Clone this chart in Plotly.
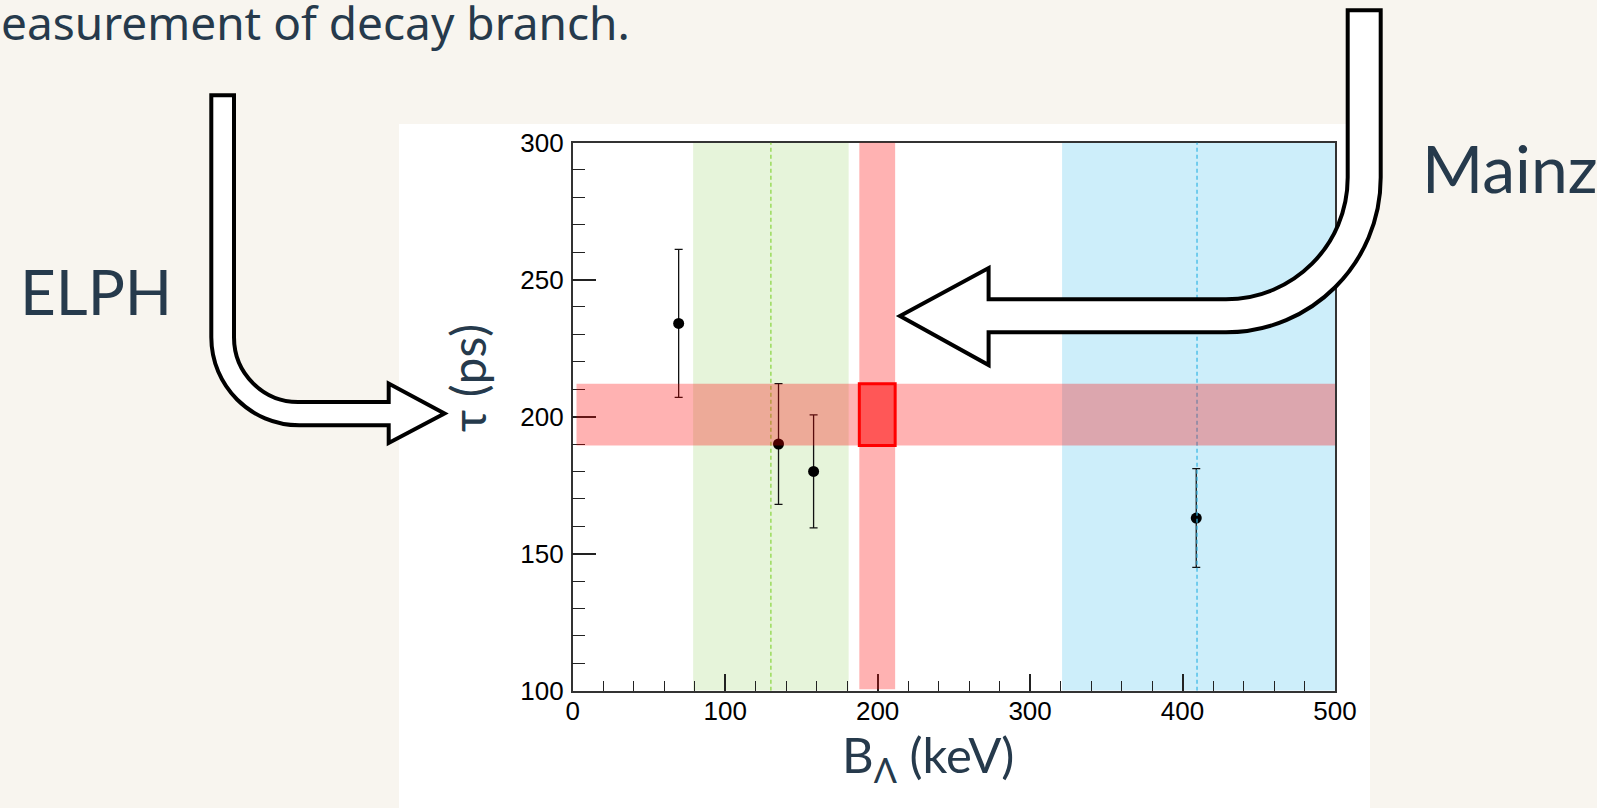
import plotly.graph_objects as go

W, H = 1597, 808

# ---------------- data ----------------
B_lambda = [69.5, 135, 158, 409]          # keV
tau = [234, 190, 180, 163]                # ps
tau_err_plus = [27, 22, 20.6, 18]
tau_err_minus = [27, 22, 20.6, 18]

elph_band = [79, 181]
elph_center = 130
mainz_band = [321, 500]
mainz_center = 409.5
tau_band = [189.5, 212]
B_band = [188, 211.5]

x_range = [0, 500]
y_range = [100, 300]

# ---------------- layout helpers ----------------
def px(x):
    return x / W

def py(y):
    return 1 - y / H

frame = dict(left=572.7, right=1335.0, top=142.5, bottom=690.7)

TXT = "#263a4c"
FONT = "Lato"

fig = go.Figure()

fig.add_trace(go.Scatter(
    x=B_lambda, y=tau, mode="markers",
    marker=dict(color="black", size=11, symbol="circle"),
    error_y=dict(type="data", symmetric=False, array=tau_err_plus,
                 arrayminus=tau_err_minus, color="#111", thickness=1.3, width=4),
    showlegend=False, hoverinfo="skip",
))

shapes = []
# white canvas panel (ROOT canvas)
shapes.append(dict(type="rect", xref="paper", yref="paper",
                   x0=px(399), x1=px(1370), y0=py(808), y1=py(124),
                   fillcolor="white", line=dict(width=0), layer="below"))
# Bands (below data)
shapes.append(dict(type="rect", xref="x", yref="y", x0=elph_band[0], x1=elph_band[1],
                   y0=y_range[0], y1=y_range[1], fillcolor="#e6f4da",
                   line=dict(width=0), layer="below"))
shapes.append(dict(type="rect", xref="x", yref="y", x0=mainz_band[0], x1=mainz_band[1],
                   y0=y_range[0], y1=y_range[1], fillcolor="#cdeefa",
                   line=dict(width=0), layer="below"))
# dashed centre lines
shapes.append(dict(type="line", xref="x", yref="y", x0=elph_center, x1=elph_center,
                   y0=y_range[0], y1=y_range[1],
                   line=dict(color="#86d43a", width=1.2, dash="4px,3px"), layer="above"))
shapes.append(dict(type="line", xref="x", yref="y", x0=mainz_center, x1=mainz_center,
                   y0=y_range[0], y1=y_range[1],
                   line=dict(color="#33b5e5", width=1.2, dash="4px,3px"), layer="above"))
# red bands (semi-transparent, above)
shapes.append(dict(type="rect", xref="x", yref="y", x0=2.5, x1=x_range[1],
                   y0=tau_band[0], y1=tau_band[1], fillcolor="rgba(255,0,0,0.3)",
                   line=dict(width=0), layer="above"))
shapes.append(dict(type="rect", xref="x", yref="y", x0=B_band[0], x1=B_band[1],
                   y0=y_range[0] + 0.5, y1=y_range[1], fillcolor="rgba(255,0,0,0.3)",
                   line=dict(width=0), layer="above"))
# highlighted intersection box
shapes.append(dict(type="rect", xref="x", yref="y", x0=B_band[0], x1=B_band[1],
                   y0=tau_band[0], y1=tau_band[1], fillcolor="#ff5757",
                   line=dict(color="#ff0000", width=3), layer="above"))

# ---------------- block arrows ----------------
K = 0.5523

def P(x, y):
    return f"{px(x):.6f},{py(y):.6f}"

# ELPH arrow
Lx, Rx, top = 211.3, 234.0, 95.3
cx, cy, R, r = 299.3, 337.3, 88.0, 65.3
hb, hy_bot, hy_top, hy_in_top, hy_in_bot = 388.7, 443.0, 383.5, 402.0, 425.3
tipx, tipy = 444.5, 413.5
elph_path = (
    f"M{P(Lx, top)} L{P(Lx, cy)} "
    f"C{P(Lx, cy + K*R)} {P(cx - K*R, cy + R)} {P(cx, cy + R)} "
    f"L{P(hb, hy_in_bot)} L{P(hb, hy_bot)} L{P(tipx, tipy)} L{P(hb, hy_top)} "
    f"L{P(hb, hy_in_top)} L{P(cx, hy_in_top)} "
    f"C{P(cx - K*r, cy + r)} {P(Rx, cy + K*r)} {P(Rx, cy)} "
    f"L{P(Rx, top)} Z"
)
shapes.append(dict(type="path", xref="paper", yref="paper", path=elph_path,
                   fillcolor="white", line=dict(color="black", width=4), layer="above"))

# Mainz arrow
mLx, mRx, mtop = 1347.7, 1380.7, 10.3
mcx, mcy, mr, mR = 1226.0, 177.6, 121.7, 154.7
mhb, m_in_top, m_in_bot, mh_top, mh_bot = 988.6, 299.3, 332.3, 268.0, 365.0
mtipx, mtipy = 900.0, 316.0
mainz_path = (
    f"M{P(mLx, mtop)} L{P(mLx, mcy)} "
    f"C{P(mLx, mcy + K*mr)} {P(mcx + K*mr, mcy + mr)} {P(mcx, mcy + mr)} "
    f"L{P(mhb, m_in_top)} L{P(mhb, mh_top)} L{P(mtipx, mtipy)} L{P(mhb, mh_bot)} "
    f"L{P(mhb, m_in_bot)} L{P(mcx, mcy + mR)} "
    f"C{P(mcx + K*mR, mcy + mR)} {P(mRx, mcy + K*mR)} {P(mRx, mcy)} "
    f"L{P(mRx, mtop)} Z"
)
shapes.append(dict(type="path", xref="paper", yref="paper", path=mainz_path,
                   fillcolor="white", line=dict(color="black", width=4), layer="above"))

annotations = [
    dict(text="easurement of decay branch.", x=0, y=py(22), xref="paper", yref="paper",
         xanchor="left", yanchor="middle", showarrow=False, borderpad=0,
         font=dict(family="Noto Sans", size=46, color=TXT)),
    dict(text="ELPH", x=px(18), y=py(291), xref="paper", yref="paper",
         xanchor="left", yanchor="middle", showarrow=False,
         font=dict(family=FONT, size=62, color=TXT)),
    dict(text="Mainz", x=px(1420), y=py(168), xref="paper", yref="paper",
         xanchor="left", yanchor="middle", showarrow=False,
         font=dict(family=FONT, size=66, color=TXT)),
    dict(text="τ (ps)", x=px(467), y=py(378), xref="paper", yref="paper",
         xanchor="center", yanchor="middle", textangle=-90, showarrow=False,
         font=dict(family=FONT, size=48, color=TXT)),
    dict(text="B<sub>Λ</sub> (keV)", x=px(928), y=py(757), xref="paper", yref="paper",
         xanchor="center", yanchor="middle", showarrow=False,
         font=dict(family=FONT, size=49, color=TXT)),
]

tickfont = dict(family="Liberation Sans", size=26, color="black")

fig.update_layout(
    width=W, height=H,
    margin=dict(l=0, r=0, t=0, b=0, pad=0, autoexpand=False),
    paper_bgcolor="#f8f5ef",
    plot_bgcolor="rgba(0,0,0,0)",
    shapes=shapes,
    annotations=annotations,
    showlegend=False,
    xaxis=dict(
        domain=[px(frame["left"]), px(frame["right"])],
        range=x_range, tickmode="linear", tick0=0, dtick=100,
        ticks="inside", ticklen=17, tickwidth=1.5, tickcolor="#222",
        minor=dict(ticks="inside", ticklen=10, tickwidth=1.3, tickcolor="#222", dtick=20, tick0=0),
        showline=True, linecolor="#333", linewidth=1.5, mirror=True, automargin=False,
        showgrid=False, zeroline=False, tickfont=tickfont, ticklabelstandoff=-4,
    ),
    yaxis=dict(
        domain=[py(frame["bottom"]), py(frame["top"])],
        range=y_range, tickmode="linear", tick0=100, dtick=50,
        ticks="inside", ticklen=24, tickwidth=1.5, tickcolor="#222",
        minor=dict(ticks="inside", ticklen=13, tickwidth=1.3, tickcolor="#222", dtick=10, tick0=100),
        showline=True, linecolor="#333", linewidth=1.5, mirror=True, automargin=False,
        showgrid=False, zeroline=False, tickfont=tickfont, ticklabelstandoff=2,
    ),
)

fig.write_html("out.html")
